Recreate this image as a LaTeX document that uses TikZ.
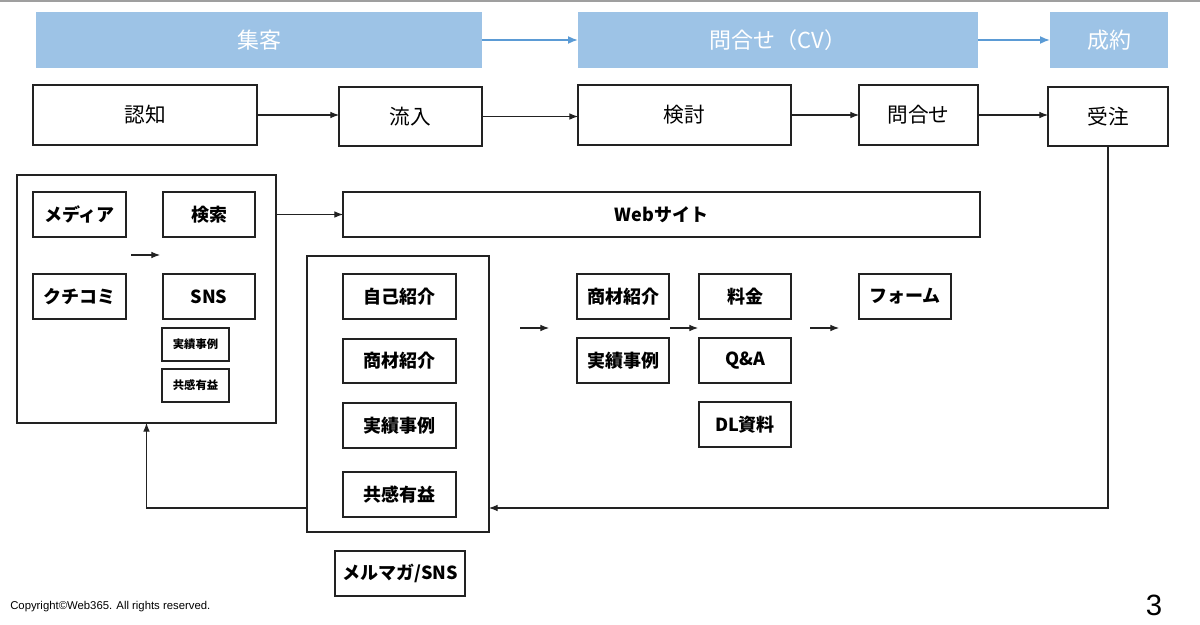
\documentclass[tikz,border=0pt]{standalone}
\usepackage{fontspec}
\setmainfont{Noto Sans CJK JP}
\newfontfamily\arialfont{Liberation Sans}
\usetikzlibrary{arrows.meta}
\definecolor{bluebox}{HTML}{9DC3E6}
\definecolor{bluearrow}{HTML}{5B9BD5}
\definecolor{edgec}{HTML}{222222}
\tikzset{
  pbox/.style={draw=edgec, line width=1.1pt, fill=white, inner sep=0pt, outer sep=0pt, text=black},
  bluebx/.style={fill=bluebox, draw=none, inner sep=0pt, outer sep=0pt, text=white, font=\fontsize{16.5}{19}\selectfont},
  bigtxt/.style={font=\fontsize{15.5}{18}\selectfont},
  midtxt/.style={font=\fontsize{13.5}{16}\bfseries\selectfont},
  smalltxt/.style={font=\fontsize{8.5}{10}\bfseries\selectfont},
  arr/.style={draw=edgec, line width=0.8pt, -{Latex[length=6.5pt,width=5pt]}},
  barr/.style={draw=bluearrow, line width=1.3pt, -{Latex[length=7.5pt,width=6pt]}},
}
\newcommand\bx[7][]{\node[pbox,#1,minimum width={(#5-#3)*0.75pt},minimum height={(#6-#4)*0.75pt}] (#2) at ({(#3+#5)/2},{(#4+#6)/2}) {#7};}
\newcommand\blx[7][]{\node[bluebx,#1,minimum width={(#5-#3)*0.75pt},minimum height={(#6-#4)*0.75pt}] (#2) at ({(#3+#5)/2},{(#4+#6)/2}) {#7};}
\begin{document}
\begin{tikzpicture}[x=0.75pt,y=-0.75pt]
\path[fill=white, use as bounding box] (0,0) rectangle (1200,625);
\draw[gray!75, line width=1.2pt] (0,1) -- (1200,1);
% top blue row
\blx{shu}{36}{12}{482}{68}{集客}
\blx{cv}{578}{12}{978}{68}{問合せ（CV）}
\blx{seiyaku}{1050}{12}{1168}{68}{成約}
\draw[barr] (shu.east) -- (cv.west);
\draw[barr] (cv.east) -- (seiyaku.west);
% second row
\bx[bigtxt]{ninchi}{33}{85}{257}{145}{認知}
\bx[bigtxt]{ryunyu}{339}{87}{482}{146}{流入}
\bx[bigtxt]{kento}{578}{85}{791}{145}{検討}
\bx[bigtxt]{toi}{859}{85}{978}{145}{問合せ}
\bx[bigtxt]{juchu}{1048}{87}{1168}{146}{受注}
\draw[arr] (ninchi.east) -- (ninchi.east -| ryunyu.west);
\draw[arr] (ryunyu.east) -- (ryunyu.east -| kento.west);
\draw[arr] (kento.east) -- (kento.east -| toi.west);
\draw[arr] (toi.east) -- (toi.east -| juchu.west);
% big left box
\bx{big}{17}{175}{276}{423}{}
\bx[midtxt]{media}{33}{192}{126}{237}{メディア}
\bx[midtxt]{kensaku}{163}{192}{255}{237}{検索}
\bx[midtxt]{kuchikomi}{33}{274}{126}{319}{クチコミ}
\bx[midtxt]{sns}{163}{274}{255}{319}{SNS}
\bx[smalltxt]{jisseki1}{162}{328}{229}{361}{実績事例}
\bx[smalltxt]{kyokan1}{162}{369}{229}{402}{共感有益}
\coordinate (a1s) at (131,255);
\coordinate (a1e) at (160,255);
\draw[arr] (a1s) -- (a1e);
% web
\bx[midtxt]{web}{343}{192}{980}{237}{Webサイト}
\draw[arr] (big.east |- web) -- (web.west);
% middle box
\bx{mid}{307}{256}{489}{532}{}
\bx[midtxt]{jiko}{343}{274}{456}{319}{自己紹介}
\bx[midtxt]{shozai1}{343}{339}{456}{383}{商材紹介}
\bx[midtxt]{jisseki2}{343}{403}{456}{448}{実績事例}
\bx[midtxt]{kyokan2}{343}{472}{456}{517}{共感有益}
\bx[midtxt]{merumaga}{335}{551}{465}{596}{メルマガ/SNS}
% right group
\bx[midtxt]{shozai2}{577}{274}{669}{319}{商材紹介}
\bx[midtxt]{jisseki3}{577}{338}{669}{383}{実績事例}
\bx[midtxt]{ryokin}{699}{274}{791}{319}{料金}
\bx[midtxt]{qa}{699}{338}{791}{383}{Q\&A}
\bx[midtxt]{dl}{699}{402}{791}{447}{DL資料}
\bx[midtxt]{form}{859}{274}{951}{319}{フォーム}
\coordinate (a2s) at (520,328);
\coordinate (a2e) at (549,328);
\coordinate (a3s) at (670,328);
\coordinate (a3e) at (698,328);
\coordinate (a4s) at (810,328);
\coordinate (a4e) at (839,328);
\draw[arr] (a2s) -- (a2e);
\draw[arr] (a3s) -- (a3e);
\draw[arr] (a4s) -- (a4e);
% feedback loop
\coordinate (fby) at (0,508);
\draw[arr] (juchu.south) |- (mid.east |- fby);
\draw[arr] (mid.west |- fby) -| (big.south);
% footer
\node[anchor=west, inner sep=0pt, font=\arialfont\fontsize{8.5}{10}\selectfont] (copy) at (10,607) {Copyright©Web365. All rights reserved.};
\node[inner sep=0pt, font=\arialfont\fontsize{22}{24}\selectfont] (pnum) at (1154,605) {3};
\end{tikzpicture}
\end{document}
